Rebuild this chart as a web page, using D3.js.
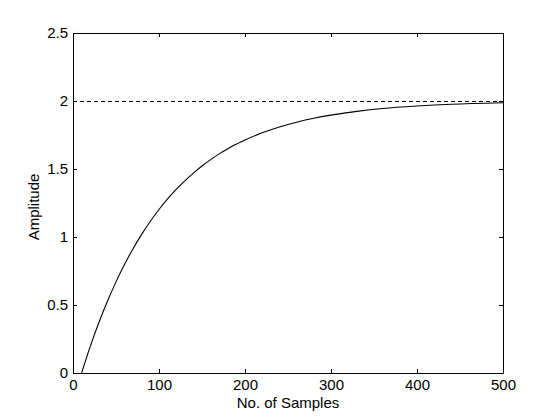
<!DOCTYPE html>
<html><head><meta charset="utf-8">
<script src="https://cdn.jsdelivr.net/npm/d3@7"></script>
<style>body{margin:0;background:#fff}svg{display:block}</style>
</head><body>
<script>
// Data
const samples = [10,20,30,40,50,60,70,80,90,100,110,120,130,140,150,160,170,180,190,200,220,240,260,280,300,330,360,400,440,500];
const amplitude = [0,0.194,0.369,0.527,0.670,0.799,0.916,1.021,1.116,1.202,1.280,1.350,1.413,1.470,1.522,1.569,1.611,1.649,1.683,1.714,1.766,1.809,1.844,1.873,1.896,1.924,1.945,1.963,1.976,1.987];
const finalValue = [2];
const xTicks = [0,100,200,300,400,500];
const yTicks = [0,0.5,1,1.5,2,2.5];
const xLabel = "No. of Samples";
const yLabel = "Amplitude";

const W = 560, H = 420;
const m = {left:73, right:57, top:33, bottom:47};
const svg = d3.select("body").append("svg").attr("width", W).attr("height", H)
  .style("font-family", "Arial, 'Liberation Sans', sans-serif");

const x = d3.scaleLinear().domain([0,500]).range([m.left, W - m.right]);
const y = d3.scaleLinear().domain([0,2.5]).range([H - m.bottom, m.top]);

// curve
const pts = samples.map((s,i)=>[s, amplitude[i]]);
svg.append("path").datum(pts)
  .attr("fill","none").attr("stroke","#000").attr("stroke-width",1.1)
  .attr("d", d3.line().x(d=>x(d[0])).y(d=>y(d[1])).curve(d3.curveCatmullRom.alpha(0.5)));

// dashed final value line
svg.selectAll(".ref").data(finalValue).enter().append("line")
  .attr("x1", x(0)).attr("x2", x(500))
  .attr("y1", d=>Math.round(y(d))+0.5).attr("y2", d=>Math.round(y(d))+0.5)
  .attr("stroke","#000").attr("stroke-width",1).attr("stroke-dasharray","4,3");

const fmt = d => String(d);
function styleAxis(g){
  g.select(".domain").attr("stroke","#000");
  g.selectAll(".tick line").attr("stroke","#000");
  g.selectAll("text").attr("fill","#000").style("font-size","15px");
}
svg.append("g").attr("transform",`translate(0,${y(0)})`)
  .call(d3.axisBottom(x).tickValues(xTicks).tickFormat(fmt).tickSizeInner(-4).tickSizeOuter(0).tickPadding(6))
  .call(styleAxis);
svg.append("g").attr("transform",`translate(0,${y(2.5)})`)
  .call(d3.axisTop(x).tickValues(xTicks).tickFormat("").tickSizeInner(-4).tickSizeOuter(0))
  .call(styleAxis);
svg.append("g").attr("transform",`translate(${x(0)},0)`)
  .call(d3.axisLeft(y).tickValues(yTicks).tickFormat(fmt).tickSizeInner(-4).tickSizeOuter(0).tickPadding(5))
  .call(styleAxis);
svg.append("g").attr("transform",`translate(${x(500)},0)`)
  .call(d3.axisRight(y).tickValues(yTicks).tickFormat("").tickSizeInner(-4).tickSizeOuter(0))
  .call(styleAxis);

svg.append("text").attr("x", (x(0)+x(500))/2).attr("y", 408)
  .attr("text-anchor","middle").style("font-size","15px").text(xLabel);
svg.append("text").attr("transform",`translate(39,207) rotate(-90)`)
  .attr("text-anchor","middle").style("font-size","15px").text(yLabel);
</script>
</body></html>
